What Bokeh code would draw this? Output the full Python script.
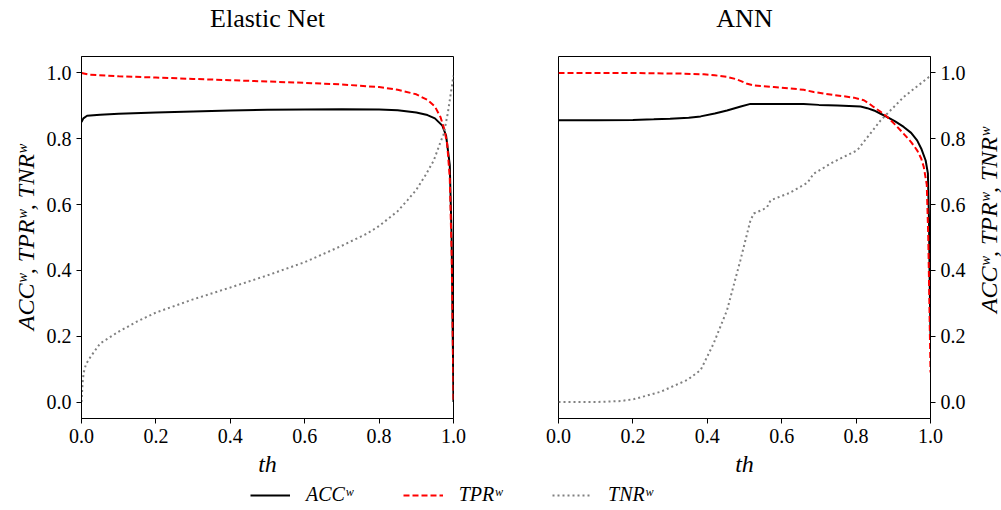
import math

from bokeh.plotting import figure
from bokeh.layouts import row, column
from bokeh.models import (FixedTicker, PrintfTickFormatter, Legend, LegendItem,
                          Range1d, Label)
from bokeh.embed import file_html
from bokeh.resources import INLINE

FONT = "Liberation Serif"

# ---- Elastic Net: weighted metrics vs. decision threshold ----
en_acc_th = [0.0, 0.005, 0.015, 0.05, 0.1, 0.2, 0.3, 0.4, 0.5, 0.6, 0.7, 0.8,
             0.85, 0.9, 0.93, 0.95, 0.97, 0.98, 0.99, 0.995, 0.998, 1.0]
en_acc = [0.851, 0.862, 0.870, 0.873, 0.876, 0.880, 0.883, 0.886, 0.888, 0.889,
          0.890, 0.889, 0.887, 0.880, 0.872, 0.862, 0.840, 0.810, 0.720, 0.50,
          0.20, 0.0]

en_tpr_th = [0.0, 0.02, 0.1, 0.2, 0.3, 0.4, 0.5, 0.6, 0.7, 0.8, 0.85, 0.9,
             0.93, 0.95, 0.965, 0.975, 0.983, 0.99, 0.995, 0.998, 1.0]
en_tpr = [1.0, 0.995, 0.990, 0.986, 0.982, 0.978, 0.974, 0.970, 0.965, 0.957,
          0.949, 0.935, 0.918, 0.898, 0.866, 0.830, 0.785, 0.680, 0.450, 0.20,
          0.0]

en_tnr_th = [0.0, 0.003, 0.006, 0.012, 0.024, 0.05, 0.1, 0.15, 0.2, 0.3, 0.4,
             0.5, 0.6, 0.7, 0.768, 0.8, 0.85, 0.876, 0.9, 0.925, 0.947, 0.965,
             0.974, 0.985, 0.993, 1.0]
en_tnr = [0.0, 0.06, 0.09, 0.115, 0.137, 0.178, 0.214, 0.245, 0.272, 0.312,
          0.348, 0.385, 0.425, 0.475, 0.512, 0.535, 0.580, 0.613, 0.645, 0.690,
          0.734, 0.790, 0.815, 0.880, 0.940, 0.992]

# ---- ANN: weighted metrics vs. decision threshold ----
ann_acc_th = [0.0, 0.1, 0.2, 0.256, 0.3, 0.35, 0.382, 0.42, 0.453, 0.49, 0.516,
              0.6, 0.659, 0.7, 0.75, 0.812, 0.83, 0.848, 0.866, 0.884, 0.905,
              0.928, 0.948, 0.964, 0.976, 0.987, 0.993, 0.996, 0.998, 1.0]
ann_acc = [0.856, 0.856, 0.857, 0.859, 0.861, 0.864, 0.868, 0.877, 0.886, 0.898,
           0.906, 0.906, 0.906, 0.903, 0.901, 0.898, 0.893, 0.886, 0.876, 0.866,
           0.853, 0.836, 0.818, 0.795, 0.768, 0.734, 0.695, 0.55, 0.35, 0.20]

ann_tpr_th = [0.0, 0.2, 0.256, 0.33, 0.391, 0.42, 0.453, 0.475, 0.489, 0.505,
              0.525, 0.579, 0.62, 0.659, 0.686, 0.74, 0.794, 0.821, 0.835, 0.848,
              0.866, 0.884, 0.905, 0.928, 0.948, 0.964, 0.975, 0.982, 0.99,
              0.994, 0.997, 1.0]
ann_tpr = [1.0, 1.0, 0.999, 0.998, 0.996, 0.993, 0.988, 0.982, 0.976, 0.968,
           0.962, 0.957, 0.953, 0.949, 0.942, 0.933, 0.925, 0.917, 0.907, 0.896,
           0.882, 0.866, 0.843, 0.815, 0.790, 0.765, 0.740, 0.714, 0.660, 0.50,
           0.30, 0.09]

ann_tnr_th = [0.0, 0.1, 0.167, 0.203, 0.274, 0.346, 0.382, 0.417, 0.453, 0.489,
              0.516, 0.525, 0.55, 0.561, 0.57, 0.62, 0.669, 0.686, 0.74, 0.803,
              0.866, 0.928, 0.995, 1.0]
ann_tnr = [0.0, 0.0, 0.003, 0.009, 0.031, 0.067, 0.097, 0.178, 0.279, 0.431,
           0.552, 0.573, 0.585, 0.593, 0.613, 0.635, 0.666, 0.694, 0.730, 0.765,
           0.856, 0.927, 0.987, 0.990]

panel_titles = ["Elastic Net", "ANN"]
tick_values = [0.0, 0.2, 0.4, 0.6, 0.8, 1.0]
metric_labels = ["ACCʷ", "TPRʷ", "TNRʷ"]
y_label = "ACCʷ, TPRʷ, TNRʷ"
x_label = "th"

STYLES = [
    dict(line_color="black", line_width=2),
    dict(line_color="red", line_width=2, line_dash="6 3"),
    dict(line_color="gray", line_width=2, line_dash="2 3"),
]

HEADER_H = 36          # strip holding the panel titles
FRAME_W, FRAME_H = 372, 362
BORDER_TOP, BORDER_BOTTOM = 56 - HEADER_H, 57
PANEL_H = BORDER_TOP + FRAME_H + BORDER_BOTTOM
RIGHT_STRIP_W = 26     # strip holding the right-hand axis title
LABEL_SIZE = "24px"


def blank_strip(width, height, x_end, y_end):
    f = figure(width=width, height=height, x_range=Range1d(0, x_end),
               y_range=Range1d(0, y_end), min_border=0,
               output_backend="svg", toolbar_location=None)
    f.axis.visible = False
    f.grid.visible = False
    f.outline_line_color = None
    f.background_fill_color = "white"
    f.border_fill_color = "white"
    return f


def make_panel(side, series, border_left, border_right):
    p = figure(frame_width=FRAME_W, frame_height=FRAME_H,
               x_range=Range1d(0, 1), y_range=Range1d(-0.05, 1.05),
               y_axis_location=side,
               min_border_left=border_left, min_border_right=border_right,
               min_border_top=BORDER_TOP, min_border_bottom=BORDER_BOTTOM,
               output_backend="svg", toolbar_location=None)
    p.background_fill_color = "white"
    p.border_fill_color = "white"
    p.outline_line_color = "black"
    p.outline_line_width = 1
    p.grid.visible = False

    for ax in (p.xaxis[0], p.yaxis[0]):
        ax.ticker = FixedTicker(ticks=tick_values)
        ax.formatter = PrintfTickFormatter(format="%.1f")
        ax.minor_tick_line_color = None
        ax.major_tick_out = 5
        ax.major_tick_in = 0
        ax.major_tick_line_color = "black"
        ax.axis_line_color = "black"
        ax.major_label_text_font = FONT
        ax.major_label_text_font_size = "20px"
        ax.major_label_text_color = "black"
        ax.axis_label_text_font = FONT
        ax.axis_label_text_font_size = LABEL_SIZE
        ax.axis_label_text_font_style = "italic"
        ax.axis_label_text_color = "black"
    p.xaxis.axis_label = x_label
    if side == "left":
        p.yaxis.axis_label = y_label

    for (xs, ys), style in zip(series, STYLES):
        p.line(xs, ys, **style)
    return p


p1 = make_panel("left",
                [(en_acc_th, en_acc), (en_tpr_th, en_tpr), (en_tnr_th, en_tnr)],
                81, 47)
p2 = make_panel("right",
                [(ann_acc_th, ann_acc), (ann_tpr_th, ann_tpr),
                 (ann_tnr_th, ann_tnr)],
                58, 1001 - 500 - 58 - FRAME_W - RIGHT_STRIP_W)

# right-hand axis title, written bottom-to-top like the left one
right_strip = blank_strip(RIGHT_STRIP_W, PANEL_H, RIGHT_STRIP_W, PANEL_H)
right_strip.add_layout(Label(x=RIGHT_STRIP_W / 2,
                             y=BORDER_BOTTOM + FRAME_H / 2,
                             text=y_label, angle=math.pi / 2,
                             text_align="center", text_baseline="middle",
                             text_font=FONT, text_font_size=LABEL_SIZE,
                             text_font_style="italic", text_color="black"))

# title strip: each title centred over its panel's frame
header = blank_strip(1001, HEADER_H, 1001, HEADER_H)
title_centres = [81 + FRAME_W / 2, 500 + 58 + FRAME_W / 2]
for text, cx in zip(panel_titles, title_centres):
    header.add_layout(Label(x=cx, y=HEADER_H - 18, text=text,
                            text_align="center", text_baseline="middle",
                            text_font=FONT, text_font_size="26px",
                            text_color="black"))

# shared legend strip underneath both panels
leg = blank_strip(1001, 35, 1, 1)
items = []
for label, style in zip(metric_labels, STYLES):
    r = leg.line(x=[float("nan")], y=[float("nan")], **style)
    items.append(LegendItem(label=label, renderers=[r]))
legend = Legend(items=items, orientation="horizontal", location=(250, 8),
                glyph_width=40, glyph_height=20, label_standoff=16, spacing=50,
                padding=0, margin=0, border_line_color=None,
                background_fill_alpha=0,
                label_text_font=FONT, label_text_font_size="20px",
                label_text_font_style="italic", label_text_color="black")
leg.add_layout(legend, "center")

layout = column(header, row(p1, p2, right_strip), leg)

open("out.html", "w").write(file_html(layout, INLINE))
